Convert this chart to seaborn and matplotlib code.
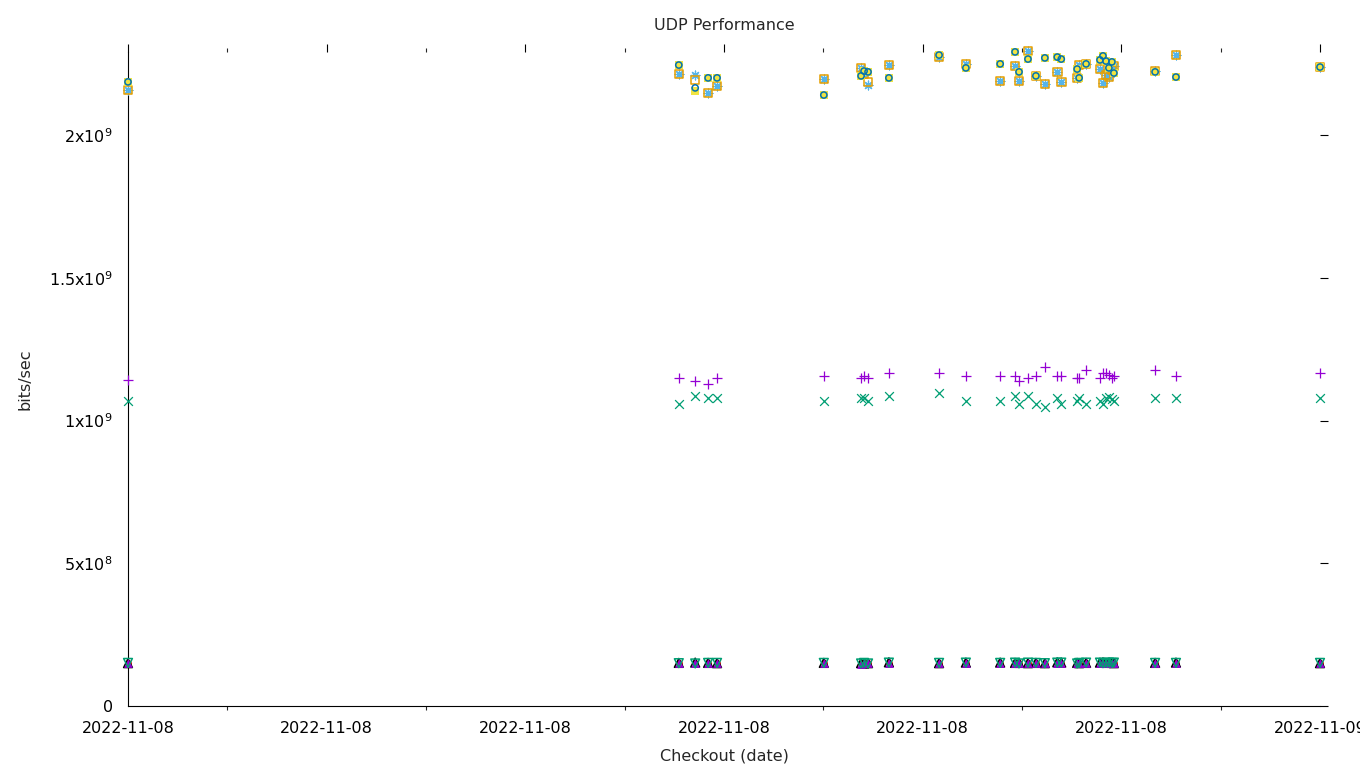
import pandas as pd
import matplotlib.pyplot as plt
import matplotlib.dates as mdates
import matplotlib.ticker as mticker
import seaborn as sb

# hora de cada corrida (horas desde 2022-11-08 00:00)
run_hours = [0.0, 11.09, 11.42, 11.68, 11.86, 14.01, 14.76, 14.82, 14.90, 15.32,
             16.33, 16.87, 17.56, 17.86, 17.94, 18.12, 18.28, 18.46, 18.71, 18.79,
             19.11, 19.15, 19.29, 19.57, 19.63, 19.69, 19.75, 19.81, 19.85, 20.68,
             21.10, 24.0]

# valores en Gbit/s
asterisk_vals = [2.158, 2.214, 2.210, 2.147, 2.172, 2.196, 2.235, 2.214, 2.176, 2.245,
                 2.273, 2.249, 2.189, 2.242, 2.189, 2.294, 2.207, 2.179, 2.221, 2.186,
                 2.200, 2.245, 2.249, 2.231, 2.182, 2.210, 2.203, 2.228, 2.242, 2.224,
                 2.280, 2.238]
open_sq_vals = [2.158, 2.214, 2.193, 2.147, 2.172, 2.196, 2.235, 2.214, 2.186, 2.245,
                2.273, 2.249, 2.189, 2.242, 2.189, 2.294, 2.207, 2.179, 2.221, 2.186,
                2.200, 2.245, 2.249, 2.231, 2.182, 2.210, 2.203, 2.228, 2.242, 2.224,
                2.280, 2.238]
fill_sq_vals = [2.186, 2.245, 2.154, 2.200, 2.200, 2.140, 2.207, 2.224, 2.221, 2.200,
                2.280, 2.235, 2.249, 2.291, 2.221, 2.266, 2.207, 2.270, 2.273, 2.266,
                2.231, 2.200, 2.249, 2.263, 2.277, 2.259, 2.235, 2.256, 2.217, 2.221,
                2.203, 2.238]
circle_vals = [2.186, 2.245, 2.165, 2.200, 2.200, 2.140, 2.207, 2.224, 2.221, 2.200,
               2.280, 2.235, 2.249, 2.291, 2.221, 2.266, 2.207, 2.270, 2.273, 2.266,
               2.231, 2.200, 2.249, 2.263, 2.277, 2.259, 2.235, 2.256, 2.217, 2.221,
               2.203, 2.238]
plus_vals = [1.142, 1.149, 1.138, 1.128, 1.149, 1.156, 1.149, 1.156, 1.149, 1.166,
             1.166, 1.156, 1.156, 1.156, 1.138, 1.149, 1.156, 1.187, 1.156, 1.156,
             1.149, 1.149, 1.177, 1.149, 1.166, 1.166, 1.159, 1.149, 1.156, 1.177,
             1.156, 1.166]
cross_vals = [1.068, 1.058, 1.086, 1.079, 1.079, 1.068, 1.079, 1.079, 1.068, 1.086,
              1.096, 1.068, 1.068, 1.086, 1.058, 1.086, 1.058, 1.047, 1.079, 1.058,
              1.068, 1.079, 1.058, 1.068, 1.058, 1.079, 1.082, 1.075, 1.068, 1.079,
              1.079, 1.079]
red_circ_vals = [0.150, 0.150, 0.151, 0.150, 0.150, 0.150, 0.149, 0.150, 0.150, 0.151,
                 0.150, 0.152, 0.151, 0.152, 0.150, 0.151, 0.150, 0.148, 0.151, 0.152,
                 0.150, 0.150, 0.151, 0.151, 0.152, 0.150, 0.151, 0.150, 0.151, 0.150,
                 0.151, 0.150]
black_tri_vals = [0.150, 0.151, 0.152, 0.151, 0.150, 0.151, 0.150, 0.149, 0.150, 0.153,
                  0.150, 0.152, 0.152, 0.151, 0.151, 0.150, 0.151, 0.150, 0.153, 0.152,
                  0.151, 0.150, 0.151, 0.152, 0.153, 0.151, 0.152, 0.151, 0.150, 0.151,
                  0.152, 0.150]
purple_tri_vals = [0.149, 0.150, 0.150, 0.150, 0.151, 0.150, 0.148, 0.150, 0.150, 0.151,
                   0.150, 0.152, 0.152, 0.151, 0.150, 0.150, 0.151, 0.149, 0.152, 0.151,
                   0.150, 0.150, 0.151, 0.152, 0.151, 0.152, 0.151, 0.152, 0.151, 0.150,
                   0.151, 0.150]
green_inv_vals = [0.151, 0.150, 0.149, 0.151, 0.151, 0.151, 0.149, 0.151, 0.149, 0.152,
                  0.151, 0.152, 0.151, 0.152, 0.149, 0.152, 0.151, 0.150, 0.152, 0.152,
                  0.149, 0.151, 0.152, 0.152, 0.150, 0.151, 0.152, 0.151, 0.152, 0.151,
                  0.151, 0.151]

y_ticks = [0, 0.5e9, 1.0e9, 1.5e9, 2.0e9]
y_tick_labels = ['0', '5x10$^{8}$', '1x10$^{9}$', '1.5x10$^{9}$', '2x10$^{9}$']

start = pd.Timestamp('2022-11-08 00:00')
times = start + pd.to_timedelta(run_hours, unit='h')

sb.set_style('white')
plt.rcParams['font.family'] = ['DejaVu Sans']

fig = plt.figure(figsize=(13.6, 7.68), dpi=100)
ax = fig.add_axes([128 / 1360, 62 / 768, 1192 / 1360, 654 / 768])

# orden de gnuplot: serie 1 primero
series = [
    (plus_vals, '+', '#9400d3', 'full', 45),
    (cross_vals, 'x', '#009e73', 'full', 40),
    (asterisk_vals, (8, 2, 0), '#56b4e9', 'full', 40),
    (open_sq_vals, 's', '#e69f00', 'none', 38),
    (fill_sq_vals, 's', '#f0e442', 'fill', 40),
    (circle_vals, 'o', '#0072b2', 'none', 20),
    (red_circ_vals, 'o', '#e51e10', 'fill', 25),
    (black_tri_vals, '^', '#000000', 'none', 40),
    (purple_tri_vals, '^', '#9400d3', 'fill', 40),
    (green_inv_vals, 'v', '#009e73', 'none', 40),
]

for vals, mk, col, style, size in series:
    df = pd.DataFrame({'t': times, 'v': [v * 1e9 for v in vals]})
    if style == 'none':
        sb.scatterplot(data=df, x='t', y='v', marker=mk, s=size, facecolor='none',
                       edgecolor=col, linewidth=1.1, ax=ax, clip_on=False, zorder=3)
    elif style == 'fill':
        sb.scatterplot(data=df, x='t', y='v', marker=mk, s=size, color=col,
                       edgecolor=col, linewidth=0, ax=ax, clip_on=False, zorder=3)
    else:
        sb.scatterplot(data=df, x='t', y='v', marker=mk, s=size, color=col,
                       linewidth=0.9, ax=ax, clip_on=False, zorder=3)

ax.set_xlim(start, start + pd.Timedelta(hours=24))
ax.set_ylim(0, 654 / 285.5 * 1e9)

ax.xaxis.set_major_locator(mdates.HourLocator(byhour=[0, 4, 8, 12, 16, 20]))
ax.xaxis.set_minor_locator(mdates.HourLocator(byhour=[2, 6, 10, 14, 18, 22]))
ax.xaxis.set_major_formatter(mdates.DateFormatter('%Y-%m-%d'))
ax.yaxis.set_major_locator(mticker.FixedLocator(y_ticks))
ax.yaxis.set_major_formatter(mticker.FixedFormatter(y_tick_labels))

for s in ['top', 'right']:
    ax.spines[s].set_visible(False)
for s in ['left', 'bottom']:
    ax.spines[s].set_linewidth(0.8)
    ax.spines[s].set_color('black')

ax.tick_params(axis='both', which='major', direction='out', length=6, width=0.8,
               top=True, right=True, labelsize=11.5, colors='black', pad=5)
ax.tick_params(axis='x', which='minor', direction='out', length=3, width=0.8,
               top=True, bottom=True)
ax.tick_params(axis='y', which='minor', left=False, right=False)

ax.set_title('UDP Performance', fontsize=11.5, pad=16)
ax.set_xlabel('Checkout (date)', fontsize=11.5, labelpad=9)
ax.set_ylabel('bits/sec', fontsize=11.5, labelpad=12)

fig.savefig('out.png', dpi=100)
